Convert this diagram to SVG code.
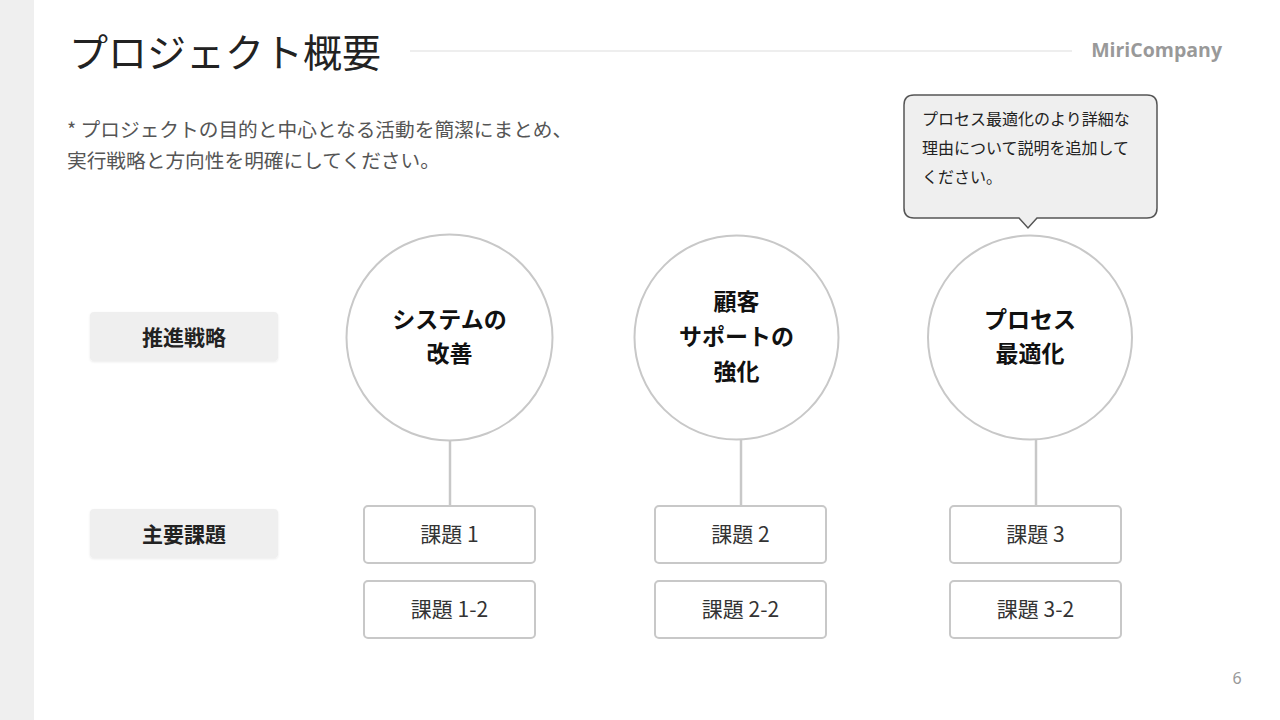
<svg xmlns="http://www.w3.org/2000/svg" width="1280" height="720" viewBox="0 0 1280 720">
<defs>
<style>
.jp{font-family:"Noto Sans CJK JP","Noto Sans",sans-serif}
.circ{fill:#fff;stroke:#c8c8c8;stroke-width:2}
.box{fill:#fff;stroke:#c8c8c8;stroke-width:2}
.lab{fill:#efefef}
.ctext{font-family:"Noto Sans CJK JP",sans-serif;font-weight:700;font-size:23px;fill:#111;text-anchor:middle}
.btext{font-family:"Noto Sans CJK JP",sans-serif;font-size:21px;fill:#333;text-anchor:middle}
.ltext{font-family:"Noto Sans CJK JP",sans-serif;font-weight:700;font-size:21px;fill:#222;text-anchor:middle}
.conn{stroke:#c8c8c8;stroke-width:2.5;fill:none}
</style>
<filter id="sh" x="-10%" y="-20%" width="120%" height="150%">
<feDropShadow dx="0" dy="1" stdDeviation="1" flood-color="#000" flood-opacity="0.08"/>
</filter>
</defs>
<rect x="0" y="0" width="1280" height="720" fill="#fff"/>
<rect x="0" y="0" width="34" height="720" fill="#efefef"/>
<g id="header">
<text x="69" y="67" class="jp" font-size="39" fill="#222">プロジェクト概要</text>
<line x1="410" y1="51" x2="1072" y2="51" stroke="#e8e8e8" stroke-width="1.5"/>
<text x="1222" y="57" font-family="'Open Sans',sans-serif" font-weight="700" font-size="19.5" fill="#999" text-anchor="end">MiriCompany</text>
</g>
<g id="subtitle" class="jp" font-size="19.7" fill="#555">
<text x="67" y="137">* プロジェクトの目的と中心となる活動を簡潔にまとめ、</text>
<text x="67" y="168">実行戦略と方向性を明確にしてください。</text>
</g>
<g id="callout">
<path d="M914,95 H1147 Q1157,95 1157,105 V208 Q1157,218 1147,218 H1037 L1028,228 L1019,218 H914 Q904,218 904,208 V105 Q904,95 914,95 Z" fill="#efefef" stroke="#555" stroke-width="1.5"/>
<g class="jp" font-size="16" fill="#222">
<text x="922" y="125">プロセス最適化のより詳細な</text>
<text x="922" y="154">理由について説明を追加して</text>
<text x="922" y="183">ください。</text>
</g>
</g>
<g id="connectors">
<line class="conn" x1="450" y1="441" x2="450" y2="506"/>
<line class="conn" x1="741" y1="440" x2="741" y2="506"/>
<line class="conn" x1="1036" y1="440" x2="1036" y2="506"/>
</g>
<g id="label-strategy">
<rect class="lab" x="90" y="312" width="188" height="49" rx="4" filter="url(#sh)"/>
<text class="ltext" x="184" y="344.5">推進戦略</text>
</g>
<g id="label-issues">
<rect class="lab" x="90" y="509" width="188" height="49" rx="4" filter="url(#sh)"/>
<text class="ltext" x="184" y="541.5">主要課題</text>
</g>
<g id="strategy-1">
<circle class="circ" cx="449.5" cy="337.5" r="103"/>
<text class="ctext" x="449.5" y="328">システムの</text>
<text class="ctext" x="449.5" y="362">改善</text>
</g>
<g id="strategy-2">
<circle class="circ" cx="736.5" cy="337.5" r="102"/>
<text class="ctext" x="736.5" y="310">顧客</text>
<text class="ctext" x="736.5" y="345">サポートの</text>
<text class="ctext" x="736.5" y="380">強化</text>
</g>
<g id="strategy-3">
<circle class="circ" cx="1030" cy="337.5" r="102"/>
<text class="ctext" x="1030" y="328">プロセス</text>
<text class="ctext" x="1030" y="362">最適化</text>
</g>
<g id="issue-1">
<rect class="box" x="364" y="506" width="171" height="57" rx="4"/>
<text class="btext" x="449.5" y="542">課題 1</text>
</g>
<g id="issue-1-2">
<rect class="box" x="364" y="581" width="171" height="57" rx="4"/>
<text class="btext" x="449.5" y="617">課題 1-2</text>
</g>
<g id="issue-2">
<rect class="box" x="655" y="506" width="171" height="57" rx="4"/>
<text class="btext" x="740.5" y="542">課題 2</text>
</g>
<g id="issue-2-2">
<rect class="box" x="655" y="581" width="171" height="57" rx="4"/>
<text class="btext" x="740.5" y="617">課題 2-2</text>
</g>
<g id="issue-3">
<rect class="box" x="950" y="506" width="171" height="57" rx="4"/>
<text class="btext" x="1035.5" y="542">課題 3</text>
</g>
<g id="issue-3-2">
<rect class="box" x="950" y="581" width="171" height="57" rx="4"/>
<text class="btext" x="1035.5" y="617">課題 3-2</text>
</g>
<text x="1237" y="684" font-family="'Noto Sans',sans-serif" font-size="16" fill="#999" text-anchor="middle">6</text>
</svg>
